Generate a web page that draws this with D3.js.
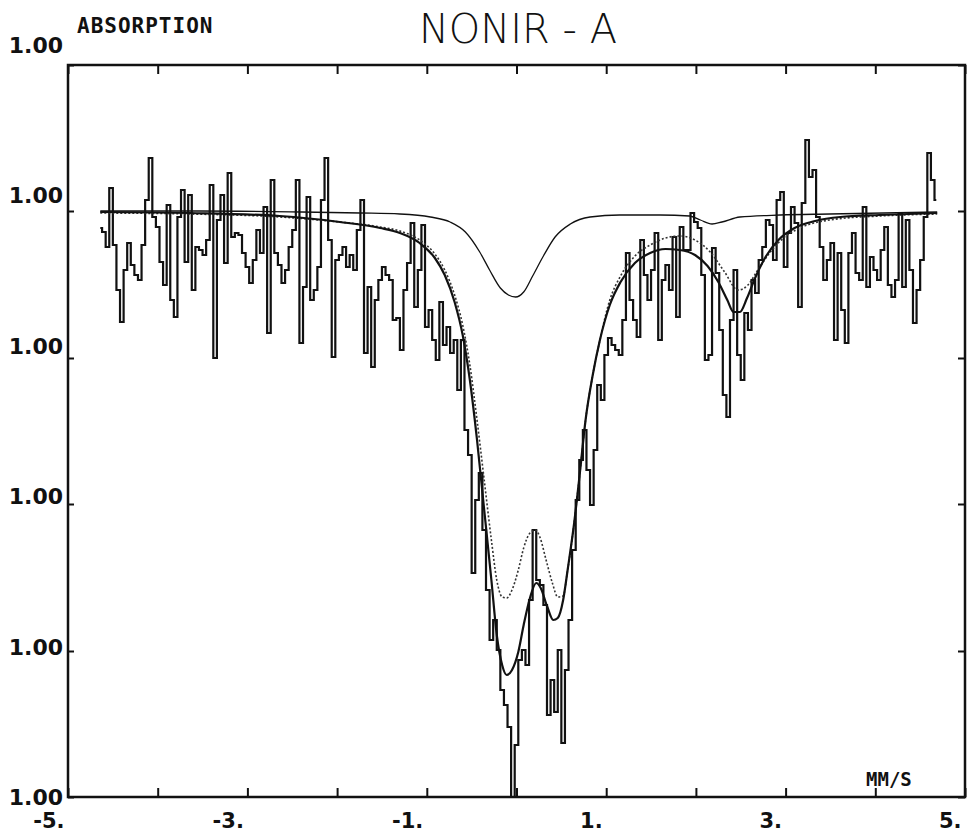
<!DOCTYPE html>
<html>
<head>
<meta charset="utf-8">
<script src="https://cdn.jsdelivr.net/npm/d3@7"></script>
<style>
  body { margin: 0; background: #fff; }
  .lbl { font-family: "DejaVu Sans Mono", monospace; font-weight: bold; fill: #111; }
  .num { font-family: "DejaVu Sans", sans-serif; font-weight: bold; fill: #111; }
</style>
</head>
<body>
<div id="container"></div>
<script>
const WIDTH = 969;
const HEIGHT = 839;
const LEFT = 68, TOP = 65, RIGHT = 965, BOTTOM = 797;
const LABEL_TOP = 45;

// axis ticks
const xTicks = [-5, -4, -3, -2, -1, 0, 1, 2, 3, 4, 5];
const xLabels = [-5, -3, -1, 1, 3, 5];
const yTicks = [0.99703, 0.99849, 0.99996, 1.00142, 1.00289, 1.00435];

// measured spectrum: one value per channel, channel 0 at -4.64 mm/s, 0.04 mm/s per channel
const specStart = -4.64;
const specStep = 0.04;
const specVal = [
  1.00272, 1.00268, 1.00253, 1.00312, 1.00255, 1.00210, 1.00178, 1.00230, 1.00257, 1.00235,
  1.00225, 1.00220, 1.00255, 1.00300, 1.00342, 1.00283, 1.00273, 1.00238, 1.00215, 1.00295,
  1.00200, 1.00183, 1.00283, 1.00310, 1.00238, 1.00305, 1.00210, 1.00253, 1.00250, 1.00245,
  1.00260, 1.00315, 1.00142, 1.00280, 1.00305, 1.00237, 1.00327, 1.00263, 1.00267, 1.00265,
  1.00247, 1.00233, 1.00217, 1.00240, 1.00270, 1.00247, 1.00293, 1.00167, 1.00320, 1.00247,
  1.00235, 1.00217, 1.00230, 1.00253, 1.00270, 1.00320, 1.00157, 1.00213, 1.00303, 1.00200,
  1.00210, 1.00233, 1.00300, 1.00342, 1.00260, 1.00143, 1.00240, 1.00245, 1.00253, 1.00233,
  1.00245, 1.00230, 1.00270, 1.00300, 1.00147, 1.00213, 1.00133, 1.00200, 1.00220, 1.00233,
  1.00225, 1.00220, 1.00180, 1.00182, 1.00150, 1.00210, 1.00237, 1.00277, 1.00193, 1.00230,
  1.00275, 1.00173, 1.00190, 1.00160, 1.00140, 1.00198, 1.00155, 1.00173, 1.00147, 1.00160,
  1.00110, 1.00160, 1.00070, 1.00045, 0.99927, 1.00000, 1.00027, 0.99970, 0.99910, 0.99860,
  0.99880, 0.99850, 0.99810, 0.99795, 0.99773, 0.99703, 0.99755, 0.99840, 0.99850, 0.99835,
  0.99900, 0.99970, 0.99920, 0.99915, 0.99895, 0.99785, 0.99820, 0.99788, 0.99850, 0.99757,
  0.99830, 0.99880, 0.99950, 1.00000, 1.00040, 1.00070, 1.00030, 0.99995, 1.00050, 1.00115,
  1.00100, 1.00145, 1.00162, 1.00155, 1.00150, 1.00145, 1.00180, 1.00247, 1.00200, 1.00180,
  1.00163, 1.00260, 1.00225, 1.00200, 1.00230, 1.00267, 1.00160, 1.00220, 1.00235, 1.00210,
  1.00263, 1.00183, 1.00273, 1.00250, 1.00250, 1.00287, 1.00278, 1.00272, 1.00225, 1.00140,
  1.00145, 1.00252, 1.00227, 1.00170, 1.00105, 1.00083, 1.00180, 1.00230, 1.00145, 1.00120,
  1.00187, 1.00170, 1.00220, 1.00207, 1.00240, 1.00253, 1.00280, 1.00275, 1.00240, 1.00300,
  1.00308, 1.00233, 1.00267, 1.00293, 1.00277, 1.00193, 1.00297, 1.00360, 1.00323, 1.00330,
  1.00283, 1.00253, 1.00220, 1.00240, 1.00257, 1.00160, 1.00247, 1.00190, 1.00157, 1.00247,
  1.00267, 1.00227, 1.00220, 1.00293, 1.00213, 1.00243, 1.00230, 1.00220, 1.00250, 1.00273,
  1.00215, 1.00203, 1.00220, 1.00287, 1.00213, 1.00280, 1.00230, 1.00177, 1.00210, 1.00240,
  1.00283, 1.00347, 1.00320, 1.00300
];

// total fit (solid)
const fitVel = [-4.64, -3.64, -2.64, -1.97, -1.52, -1.30, -1.08, -0.91, -0.80, -0.69, -0.60, -0.52,
  -0.44, -0.36, -0.28, -0.22, -0.16, -0.11, -0.05, 0.02, 0.08, 0.15, 0.22, 0.27, 0.34, 0.41, 0.46,
  0.52, 0.57, 0.64, 0.71, 0.77, 0.85, 0.93, 1.04, 1.16, 1.32, 1.49, 1.66, 1.82, 1.99, 2.13, 2.25,
  2.35, 2.42, 2.49, 2.57, 2.66, 2.77, 2.92, 3.10, 3.33, 3.61, 4.05, 4.69];
const fitVal = [1.00288, 1.00287, 1.00284, 1.00278, 1.00272, 1.00267, 1.00257, 1.00242, 1.00225,
  1.00198, 1.00165, 1.00120, 1.00060, 0.99990, 0.99920, 0.99865, 0.99835, 0.99825, 0.99830,
  0.99848, 0.99875, 0.99902, 0.99917, 0.99912, 0.99894, 0.99880, 0.99882, 0.99900, 0.99930,
  0.99975, 1.00030, 1.00080, 1.00125, 1.00160, 1.00195, 1.00218, 1.00237, 1.00247, 1.00251,
  1.00250, 1.00245, 1.00234, 1.00218, 1.00200, 1.00188, 1.00188, 1.00202, 1.00222, 1.00242,
  1.00260, 1.00272, 1.00279, 1.00283, 1.00285, 1.00287];

// doublet sub-spectrum (dotted)
const dblVel = [-4.64, -3.64, -2.64, -1.97, -1.52, -1.30, -1.08, -0.91, -0.80, -0.69, -0.60, -0.52,
  -0.44, -0.36, -0.28, -0.22, -0.16, -0.11, -0.05, 0.02, 0.08, 0.15, 0.21, 0.26, 0.33, 0.40, 0.46,
  0.52, 0.57, 0.64, 0.71, 0.77, 0.85, 0.93, 1.04, 1.16, 1.32, 1.49, 1.66, 1.82, 1.99, 2.16, 2.32,
  2.47, 2.58, 2.69, 2.83, 2.99, 3.16, 3.49, 4.05, 4.69];
const dblVal = [1.00287, 1.00286, 1.00283, 1.00278, 1.00273, 1.00269, 1.00260, 1.00246, 1.00230,
  1.00205, 1.00175, 1.00135, 1.00080, 1.00020, 0.99960, 0.99920, 0.99903, 0.99902, 0.99910,
  0.99930, 0.99952, 0.99967, 0.99970, 0.99963, 0.99940, 0.99917, 0.99903, 0.99904, 0.99930,
  0.99975, 1.00030, 1.00080, 1.00125, 1.00160, 1.00200, 1.00224, 1.00244, 1.00255, 1.00262,
  1.00264, 1.00260, 1.00248, 1.00228, 1.00210, 1.00215, 1.00230, 1.00248, 1.00263, 1.00272,
  1.00280, 1.00284, 1.00286];

// singlet sub-spectrum (thin)
const sngVel = [-4.64, -3.53, -2.41, -1.74, -1.30, -0.96, -0.74, -0.57, -0.41, -0.30, -0.18, -0.09,
  -0.01, 0.08, 0.18, 0.30, 0.43, 0.60, 0.82, 1.15, 1.60, 1.93, 2.05, 2.18, 2.29, 2.49, 2.94, 3.49, 4.69];
const sngVal = [1.00289, 1.00289, 1.00288, 1.00287, 1.00286, 1.00283, 1.00278, 1.00268, 1.00248,
  1.00230, 1.00212, 1.00205, 1.00203, 1.00208, 1.00224, 1.00244, 1.00263, 1.00276, 1.00283,
  1.00285, 1.00285, 1.00284, 1.00280, 1.00276, 1.00278, 1.00283, 1.00285, 1.00286, 1.00288];


var zip = function (xs, ys) {
    return xs.map(function (v, i) { return {v: v, t: ys[i]}; });
};

var translate = function (x, y) {
    return "translate(" + x + "," + y + ")";
};

var drawChart = function () {
    var svg = d3.select("#container")
        .append("svg")
        .attr("width", WIDTH)
        .attr("height", HEIGHT);

    var xScale = d3.scaleLinear().domain([-5, 5]).range([LEFT, RIGHT]);
    var yDomain = [yTicks[0], yTicks[yTicks.length - 1]];
    var yScale = d3.scaleLinear().domain(yDomain).range([BOTTOM, TOP]);
    // the plotter spreads its y labels a bit wider than the ticks (top one sits above the frame)
    var yLabelScale = d3.scaleLinear().domain(yDomain).range([BOTTOM, LABEL_TOP]);

    // tick marks, all pointing inwards
    svg.append("g").attr("transform", translate(0, BOTTOM))
        .call(d3.axisBottom(xScale).tickValues(xTicks).tickSize(-9).tickFormat(""));
    svg.append("g").attr("transform", translate(0, TOP))
        .call(d3.axisTop(xScale).tickValues(xTicks).tickSize(-9).tickFormat(""));
    svg.append("g").attr("transform", translate(LEFT, 0))
        .call(d3.axisLeft(yScale).tickValues(yTicks).tickSize(-6).tickFormat(""));
    svg.append("g").attr("transform", translate(RIGHT, 0))
        .call(d3.axisRight(yScale).tickValues(yTicks).tickSize(-7).tickFormat(""));
    svg.selectAll(".domain").remove();
    svg.selectAll(".tick line").attr("stroke", "#111").attr("stroke-width", 2);

    // frame
    svg.append("rect")
        .attr("x", LEFT).attr("y", TOP)
        .attr("width", RIGHT - LEFT).attr("height", BOTTOM - TOP)
        .attr("fill", "none").attr("stroke", "#111").attr("stroke-width", 2.5);

    // x labels: "-5." etc, right edge just left of the tick
    var xl = svg.append("g").attr("transform", translate(0, BOTTOM))
        .call(d3.axisBottom(xScale).tickValues(xLabels).tickSize(0)
            .tickFormat(function (d) { return d + "."; }));
    xl.select(".domain").remove();
    xl.selectAll("text").attr("class", "num").attr("text-anchor", "end")
        .attr("font-size", 21).attr("dy", 0).attr("y", 31).attr("x", -4);

    // y labels: every one prints as 1.00
    var yl = svg.append("g").attr("transform", translate(LEFT, 0))
        .call(d3.axisLeft(yLabelScale).tickValues(yTicks).tickSize(0).tickFormat(d3.format(".2f")));
    yl.select(".domain").remove();
    yl.selectAll("text").attr("class", "num").attr("text-anchor", "end")
        .attr("font-size", 22).attr("x", -5).attr("dy", "0.36em");

    svg.append("text").attr("class", "lbl")
        .attr("x", 77).attr("y", 33).attr("font-size", 21)
        .attr("letter-spacing", 1)
        .text("ABSORPTION");

    svg.append("text").attr("class", "lbl")
        .attr("x", 866).attr("y", 786).attr("font-size", 19)
        .text("MM/S");

    svg.append("text")
        .attr("x", 518).attr("y", 43)
        .attr("text-anchor", "middle")
        .attr("font-family", "DejaVu Sans")
        .attr("font-weight", 200)
        .attr("font-size", 40)
        .attr("fill", "#111")
        .text("NONIR - A");

    var smooth = d3.line()
        .x(function (d) { return xScale(d.v); })
        .y(function (d) { return yScale(d.t); })
        .curve(d3.curveMonotoneX);

    var steps = d3.line()
        .x(function (d) { return xScale(d.v); })
        .y(function (d) { return yScale(d.t); })
        .curve(d3.curveStep);

    var spectrum = specVal.map(function (t, i) {
        return {v: specStart + i * specStep, t: t};
    });

    svg.append("path")
        .attr("d", steps(spectrum))
        .attr("fill", "none")
        .attr("stroke", "#111")
        .attr("stroke-width", 2.2);

    svg.append("path")
        .attr("d", smooth(zip(sngVel, sngVal)))
        .attr("fill", "none")
        .attr("stroke", "#111")
        .attr("stroke-width", 1.3);

    svg.append("path")
        .attr("d", smooth(zip(dblVel, dblVal)))
        .attr("fill", "none")
        .attr("stroke", "#333")
        .attr("stroke-width", 1.6)
        .attr("stroke-dasharray", "2,2");

    svg.append("path")
        .attr("d", smooth(zip(fitVel, fitVal)))
        .attr("fill", "none")
        .attr("stroke", "#111")
        .attr("stroke-width", 2.2);
};

window.onload = drawChart;
</script>
</body>
</html>
